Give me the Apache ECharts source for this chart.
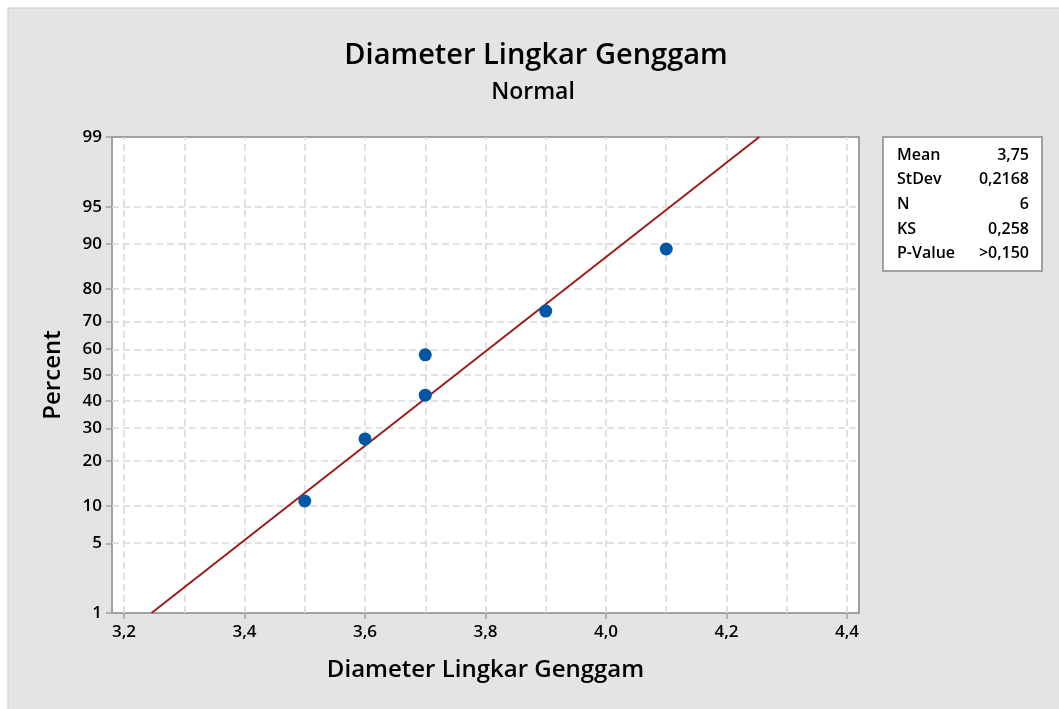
<!DOCTYPE html>
<html><head><meta charset="utf-8">
<script src="https://cdn.jsdelivr.net/npm/echarts@6/dist/echarts.min.js"></script>
<style>html,body{margin:0;padding:0;background:#fff}#c{width:1059px;height:709px}</style>
</head><body><div id="c"></div>
<script>
// ---- data ----
const chartTitle = 'Diameter Lingkar Genggam';
const chartSubtitle = 'Normal';
const xName = 'Diameter Lingkar Genggam';
const yName = 'Percent';
const xTickLabels = [3.2, 3.4, 3.6, 3.8, 4.0, 4.2, 4.4];
const xGridValues = [3.2, 3.3, 3.4, 3.5, 3.6, 3.7, 3.8, 3.9, 4.0, 4.1, 4.2, 4.3, 4.4];
const pctTicks = [1, 5, 10, 20, 30, 40, 50, 60, 70, 80, 90, 95, 99];
const obsX = [3.5, 3.6, 3.7, 3.7, 3.9, 4.1];
const obsPct = [10.9, 26.6, 42.2, 57.8, 73.4, 89.1];
const fitX = [3.2456, 4.2544];
const fitPct = [1, 99];
const statLabels = ['Mean', 'StDev', 'N', 'KS', 'P-Value'];
const statValues = ['3,75', '0,2168', '6', '0,258', '>0,150'];

// probability-scale transform (percent -> normal quantile)
function probit(pct) {
  const p = pct / 100;
  const a = [-3.969683028665376e+01, 2.209460984245205e+02, -2.759285104469687e+02, 1.383577518672690e+02, -3.066479806614716e+01, 2.506628277459239e+00];
  const b = [-5.447609879822406e+01, 1.615858368580409e+02, -1.556989798598866e+02, 6.680131188771972e+01, -1.328068155288572e+01];
  const c = [-7.784894002430293e-03, -3.223964580411365e-01, -2.400758277161838e+00, -2.549732539343734e+00, 4.374664141464968e+00, 2.938163982698783e+00];
  const d = [7.784695709041462e-03, 3.224671290700398e-01, 2.445134137142996e+00, 3.754408661907416e+00];
  const pl = 0.02425, ph = 1 - pl;
  let q, r;
  if (p < pl) { q = Math.sqrt(-2 * Math.log(p)); return (((((c[0]*q+c[1])*q+c[2])*q+c[3])*q+c[4])*q+c[5]) / ((((d[0]*q+d[1])*q+d[2])*q+d[3])*q+1); }
  if (p <= ph) { q = p - 0.5; r = q*q; return (((((a[0]*r+a[1])*r+a[2])*r+a[3])*r+a[4])*r+a[5])*q / (((((b[0]*r+b[1])*r+b[2])*r+b[3])*r+b[4])*r+1); }
  q = Math.sqrt(-2 * Math.log(1 - p)); return -(((((c[0]*q+c[1])*q+c[2])*q+c[3])*q+c[4])*q+c[5]) / ((((d[0]*q+d[1])*q+d[2])*q+d[3])*q+1);
}
const yTickZ = pctTicks.map(probit);
function zToPct(z) {
  let best = pctTicks[0], bd = Infinity;
  pctTicks.forEach(p => { const dd = Math.abs(probit(p) - z); if (dd < bd) { bd = dd; best = p; } });
  return best;
}

const FONT = '"Open Sans", "Noto Sans", sans-serif';
const gridLine = { color: '#d9d9d9', width: 1.6, type: [7, 4] };

const chart = echarts.init(document.getElementById('c'), null, { renderer: 'canvas' });

const statChildren = [{
  type: 'rect', shape: { x: 0, y: 0, width: 159, height: 134 },
  style: { fill: '#fff', stroke: '#a0a0a0', lineWidth: 2 }
}];
statLabels.forEach((lab, i) => {
  statChildren.push({ type: 'text', x: 14, y: 18 + i * 24.7,
    style: { text: lab, font: '600 16px ' + FONT, fill: '#000', align: 'left', verticalAlign: 'middle' } });
  statChildren.push({ type: 'text', x: 146, y: 18 + i * 24.7,
    style: { text: statValues[i], font: '600 16px ' + FONT, fill: '#000', align: 'right', verticalAlign: 'middle' } });
});

chart.setOption({
  backgroundColor: '#fff',
  animation: false,
  graphic: [
    { type: 'rect', z: -10, shape: { x: 8, y: 8, width: 1060, height: 710 },
      style: { fill: '#e4e4e4', stroke: '#c9c9c9', lineWidth: 1 } },
    { type: 'text', x: 536, y: 56, style: { text: chartTitle, font: '600 29px ' + FONT, fill: '#000', align: 'center', verticalAlign: 'middle' } },
    { type: 'text', x: 533, y: 92, style: { text: chartSubtitle, font: '600 23px ' + FONT, fill: '#000', align: 'center', verticalAlign: 'middle' } },
    { type: 'group', x: 883, y: 137, children: statChildren }
  ],
  grid: { left: 112, top: 137, right: 200, bottom: 96, show: true, backgroundColor: '#fff', borderColor: '#a0a0a0', borderWidth: 2 },
  xAxis: {
    type: 'value', min: 3.18, max: 4.42,
    name: xName, nameLocation: 'middle', nameGap: 45,
    nameTextStyle: { fontFamily: FONT, fontSize: 24, fontWeight: 600, color: '#000' },
    axisLine: { show: true, onZero: false, lineStyle: { color: '#a0a0a0', width: 2 } },
    axisTick: { show: true, length: 6, lineStyle: { color: '#a0a0a0', width: 1.5 }, customValues: xTickLabels },
    axisLabel: { customValues: xTickLabels, margin: 11, fontFamily: FONT, fontSize: 17, fontWeight: 600, color: '#000',
      formatter: v => v.toFixed(1).replace('.', ',') },
    splitLine: { show: false }
  },
  yAxis: {
    type: 'value', min: probit(1), max: probit(99),
    name: yName, nameLocation: 'middle', nameGap: 47, nameRotate: 90,
    nameTextStyle: { fontFamily: FONT, fontSize: 24, fontWeight: 600, color: '#000' },
    axisLine: { show: true, onZero: false, lineStyle: { color: '#a0a0a0', width: 2 } },
    axisTick: { show: true, length: 6, lineStyle: { color: '#a0a0a0', width: 1.5 }, customValues: yTickZ },
    axisLabel: { customValues: yTickZ, margin: 10, fontFamily: FONT, fontSize: 17, fontWeight: 600, color: '#000',
      formatter: v => String(zToPct(v)) },
    splitLine: { show: false }
  },
  series: [
    { type: 'line', data: [], z: 1, silent: true,
      markLine: { z: 1, silent: true, symbol: ['none', 'none'], label: { show: false }, lineStyle: gridLine, animation: false,
        emphasis: { disabled: true },
        data: xGridValues.map(v => ({ xAxis: v })).concat(yTickZ.map(z => ({ yAxis: z }))) } },
    { type: 'line', z: 3, data: fitX.map((x, i) => [x, probit(fitPct[i])]), showSymbol: false, symbol: 'none',
      lineStyle: { color: '#9e1b1b', width: 2 } },
    { type: 'scatter', z: 4, data: obsX.map((x, i) => [x, probit(obsPct[i])]), symbolSize: 13,
      itemStyle: { color: '#0157a6', opacity: 1 } }
  ]
});
</script></body></html>
